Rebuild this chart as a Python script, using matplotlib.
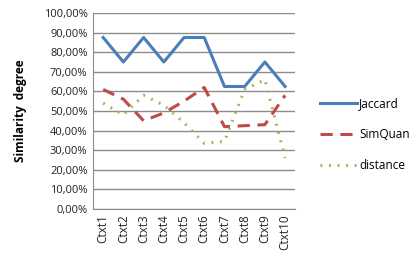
import matplotlib.pyplot as plt
from matplotlib.ticker import FuncFormatter

contexts = ["Ctxt1", "Ctxt2", "Ctxt3", "Ctxt4", "Ctxt5",
            "Ctxt6", "Ctxt7", "Ctxt8", "Ctxt9", "Ctxt10"]
jaccard = [0.875, 0.75, 0.875, 0.75, 0.875, 0.875, 0.625, 0.625, 0.75, 0.625]
simquan = [0.61, 0.56, 0.45, 0.49, 0.55, 0.62, 0.42, 0.425, 0.43, 0.58]
distance = [0.54, 0.48, 0.58, 0.53, 0.44, 0.335, 0.345, 0.61, 0.66, 0.26]

plt.rcParams['font.family'] = ['Open Sans', 'DejaVu Sans']

fig = plt.figure(figsize=(4.1, 2.71), dpi=100)
ax = fig.add_axes([0.227, 0.229, 0.493, 0.723])

x = range(len(contexts))
ax.plot(x, jaccard, color='#4A7EBB', lw=2.2, label='Jaccard')
ax.plot(x, simquan, color='#BE4B48', lw=2.2, dashes=(4, 2.5), label='SimQuan')
ax.plot(x, distance, color='#98B954', lw=2.2, dashes=(0.6, 2.2), label='distance')

ax.set_ylim(0, 1)
ax.set_yticks([i / 10 for i in range(11)])
ax.yaxis.set_major_formatter(FuncFormatter(lambda v, p: f"{v*100:.2f}%".replace('.', ',')))
ax.set_xlim(-0.5, len(contexts) - 0.5)
ax.set_xticks(list(x))
ax.set_xticklabels(contexts, rotation=90)
ax.tick_params(length=0, labelsize=8, colors='#222222', pad=4)
ax.tick_params(axis='x', labelsize=8.5)
ax.grid(axis='y', color='#8c8c8c', lw=1)
ax.set_axisbelow(True)
for s in ['top', 'right']:
    ax.spines[s].set_visible(False)
for s in ['left', 'bottom']:
    ax.spines[s].set_color('#8c8c8c')

ax.set_ylabel('Similarity  degree', fontsize=8.5, fontweight='bold', labelpad=12)

ax.legend(loc='center left', bbox_to_anchor=(1.07, 0.38), frameon=False,
          fontsize=8.5, handlelength=3.1, handletextpad=0.2, labelspacing=1.55)

fig.savefig('out.png', dpi=100)
